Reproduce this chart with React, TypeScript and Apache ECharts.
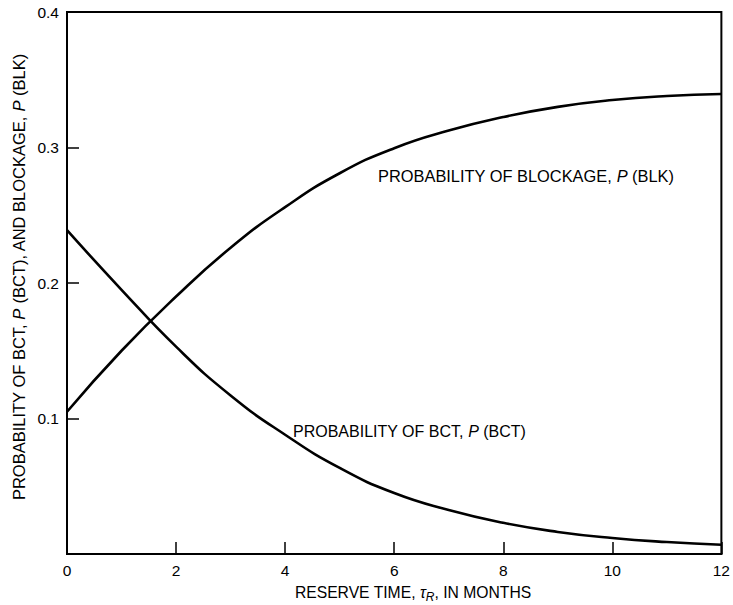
import React, { useEffect, useRef } from "react";
import * as echarts from "echarts";

// Reserve time tau_R (months)
const reserveTime = [0, 1, 2, 3, 4, 5, 6, 7, 8, 9, 10, 11, 12];
// Probability of blockage, P(BLK)
const pBlk = [0.105, 0.15, 0.19, 0.226, 0.256, 0.281, 0.2995, 0.3125, 0.3225, 0.33, 0.335, 0.338, 0.3395];
// Probability of BCT, P(BCT)
const pBct = [0.239, 0.195, 0.153, 0.117, 0.088, 0.0635, 0.045, 0.0325, 0.023, 0.0163, 0.0118, 0.0088, 0.0068];

const seriesNames = ["PROBABILITY OF BLOCKAGE, P (BLK)", "PROBABILITY OF BCT, P (BCT)"];
const xAxisTitle = "RESERVE TIME, {t|τ}{r|R}, IN MONTHS";
const yAxisTitle = "PROBABILITY OF BCT, {i|P} (BCT), AND BLOCKAGE, {i|P} (BLK)";

const FONT = "'Liberation Sans', Arial, Helvetica, sans-serif";

export default function App() {
  const ref = useRef<HTMLDivElement>(null);

  useEffect(() => {
    if (!ref.current) return;
    const chart = echarts.init(ref.current, null, { renderer: "svg" });
    const ital = (size: number) => ({ fontStyle: "italic", fontSize: size, fontFamily: FONT, fill: "#000" });
    chart.setOption({
      animation: false,
      backgroundColor: "#fff",
      textStyle: { fontFamily: FONT, color: "#000" },
      grid: {
        left: 67,
        right: 9,
        top: 12,
        bottom: 51,
        show: true,
        borderColor: "#000",
        borderWidth: 2,
      },
      xAxis: {
        type: "value",
        min: 0,
        max: 12,
        interval: 2,
        axisLine: { show: true, lineStyle: { color: "#000", width: 2 } },
        axisTick: { show: true, inside: true, length: 12, lineStyle: { color: "#000", width: 1.5 } },
        axisLabel: { fontSize: 15.5, color: "#000", margin: 8, fontFamily: FONT },
        splitLine: { show: false },
      },
      yAxis: {
        type: "value",
        min: 0,
        max: 0.4,
        interval: 0.1,
        axisLine: { show: true, lineStyle: { color: "#000", width: 2 } },
        axisTick: { show: true, inside: true, length: 12, lineStyle: { color: "#000", width: 1.5 } },
        axisLabel: {
          fontSize: 15.5,
          color: "#000",
          margin: 8,
          fontFamily: FONT,
          formatter: (v: number) => (v === 0 ? "" : v.toFixed(1)),
        },
        splitLine: { show: false },
      },
      series: [
        {
          name: seriesNames[0],
          type: "line",
          smooth: 0.5,
          symbol: "none",
          lineStyle: { color: "#000", width: 2.6 },
          data: reserveTime.map((x, i) => [x, pBlk[i]]),
        },
        {
          name: seriesNames[1],
          type: "line",
          smooth: 0.5,
          symbol: "none",
          lineStyle: { color: "#000", width: 2.6 },
          data: reserveTime.map((x, i) => [x, pBct[i]]),
        },
      ],
      graphic: [
        {
          type: "text",
          x: 413,
          y: 592,
          style: {
            text: xAxisTitle,
            fontSize: 15.7,
            fontFamily: FONT,
            fill: "#000",
            align: "center",
            verticalAlign: "middle",
            lineHeight: 22,
            rich: {
              t: { ...ital(15.7), lineHeight: 22 },
              r: { ...ital(12), verticalAlign: "bottom", lineHeight: 12 },
            },
          },
        },
        {
          type: "text",
          x: 19,
          y: 277,
          rotation: Math.PI / 2,
          style: {
            text: yAxisTitle,
            fontSize: 16.5,
            fontFamily: FONT,
            fill: "#000",
            align: "center",
            verticalAlign: "middle",
            rich: { i: ital(16.5) },
          },
        },
        {
          type: "text",
          left: 378,
          top: 168,
          style: {
            text: "PROBABILITY OF BLOCKAGE, {i|P} (BLK)",
            fontSize: 16.4,
            fontFamily: FONT,
            fill: "#000",
            rich: { i: ital(16.4) },
          },
        },
        {
          type: "text",
          left: 293,
          top: 423,
          style: {
            text: "PROBABILITY OF BCT, {i|P} (BCT)",
            fontSize: 16,
            fontFamily: FONT,
            fill: "#000",
            rich: { i: ital(16) },
          },
        },
      ],
    });
    return () => chart.dispose();
  }, []);

  return (
    <div
      ref={ref}
      style={{ position: "absolute", left: 0, top: 0, width: 733, height: 605 }}
    />
  );
}
